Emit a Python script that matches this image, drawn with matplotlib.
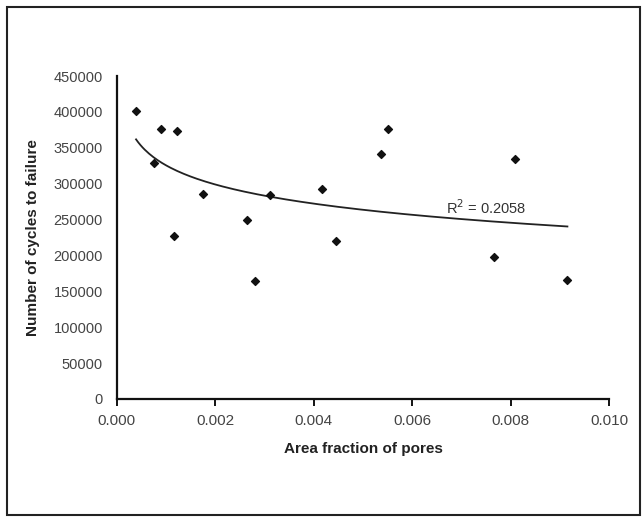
import numpy as np
import matplotlib
matplotlib.use("Agg")
import matplotlib.pyplot as plt
from matplotlib.patches import Rectangle

plt.rcParams['font.family'] = ['Liberation Sans', 'DejaVu Sans']

# data
area_fraction = [0.00039, 0.00076, 0.00089, 0.00122, 0.00117, 0.00175, 0.00265, 0.00280,
                 0.00311, 0.00416, 0.00446, 0.00537, 0.00551, 0.00808, 0.00765, 0.00915]
cycles = [401000, 329000, 376000, 373000, 227000, 285000, 250000, 165000,
          284000, 292000, 220000, 341000, 376000, 335000, 198000, 166000]
r2_label = "R$^2$ = 0.2058"
x_ticks = [0.000, 0.002, 0.004, 0.006, 0.008, 0.010]
y_ticks = list(range(0, 450001, 50000))

x = np.array(area_fraction)
y = np.array(cycles)

# logarithmic trendline like Excel
a, b = np.polyfit(np.log(x), y, 1)
xs = np.linspace(x.min(), x.max(), 200)
ys = a * np.log(xs) + b

fig = plt.figure(figsize=(6.42, 5.2), dpi=100)
ax = fig.add_axes([0.182, 0.2327, 0.767, 0.621])

ax.plot(xs, ys, color='#222222', linewidth=1.3)
ax.scatter(x, y, marker='D', s=16, color='#111111', zorder=3)

ax.text(0.00668, 267000, r2_label, fontsize=10.5, color='#333333', va='center')

ax.set_xlim(0, 0.010)
ax.set_ylim(0, 450000)
ax.set_xticks(x_ticks)
ax.set_xticklabels([f"{t:.3f}" for t in x_ticks])
ax.set_yticks(y_ticks)
ax.set_yticklabels([str(t) for t in y_ticks])

for s in ['top', 'right']:
    ax.spines[s].set_visible(False)
for s in ['left', 'bottom']:
    ax.spines[s].set_linewidth(1.6)
    ax.spines[s].set_color('#111111')

ax.tick_params(axis='x', direction='out', length=5, width=1.3, pad=6,
               labelsize=11, labelcolor='#444444')
ax.tick_params(axis='y', length=0, pad=10, labelsize=10.5, labelcolor='#444444')

ax.set_xlabel('Area fraction of pores', fontsize=11, fontweight='semibold',
              color='#222222', labelpad=10)
ax.set_ylabel('Number of cycles to failure', fontsize=11, fontweight='semibold',
              color='#222222', labelpad=10)

# outer frame of the chart area
fig.patches.append(Rectangle((7 / 642, 5 / 520), 633 / 642, 508 / 520,
                             transform=fig.transFigure, fill=False,
                             edgecolor='#222222', linewidth=1.5))

fig.savefig('out.png', dpi=100, facecolor='white')
